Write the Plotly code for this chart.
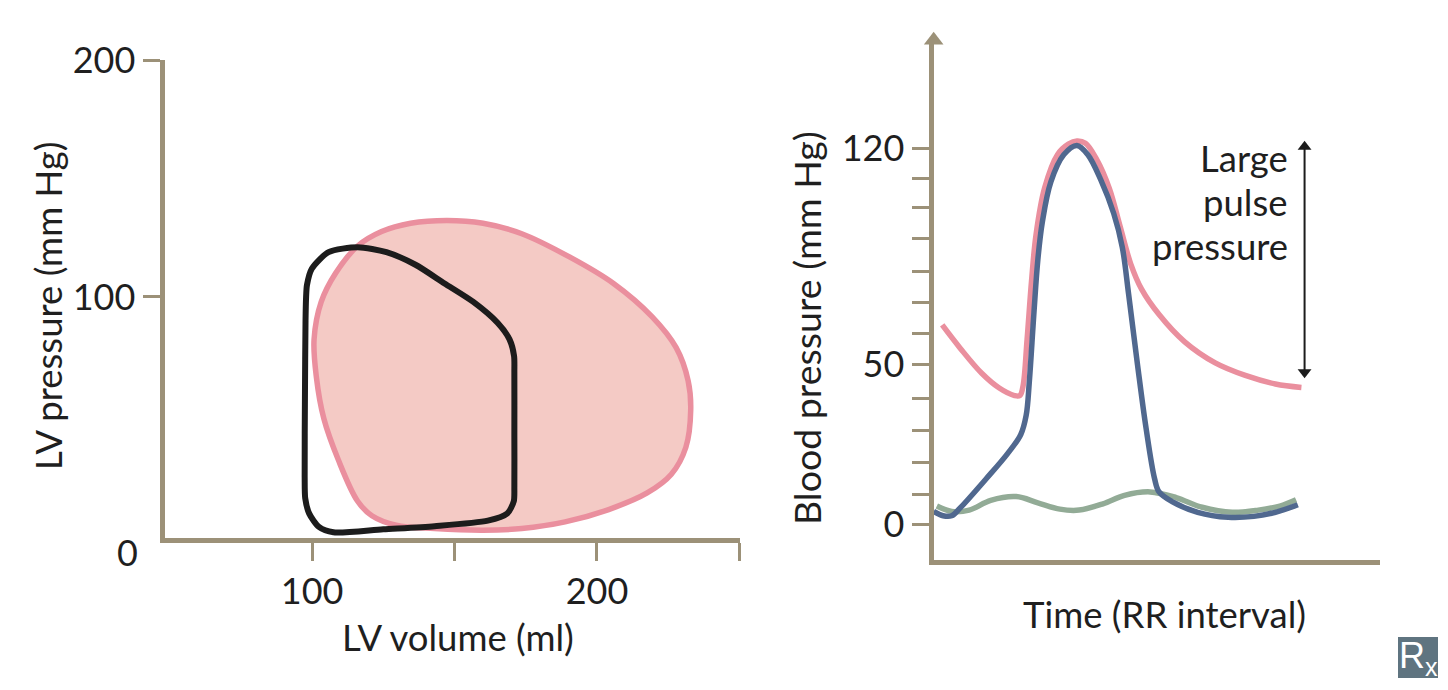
import plotly.graph_objects as go

W, H = 1448, 690
FONT = "Lato, sans-serif"
AXIS = "#9c9178"
TEXT = "#1f1f1f"
PINK = "#ea8f9e"
FILL = "#f4cac5"
BLUE = "#50688f"
GREEN = "#92ab96"

# PV loops: LV volume (ml), LV pressure (mm Hg)
large_volume = [147.3, 160.0, 173.6, 190.5, 205.8, 219.3, 227.8, 232.0, 232.9, 231.2, 226.1, 217.6, 204.1, 188.8,
                173.6, 160.0, 143.0, 129.5, 121.0, 116.0, 109.2, 104.1, 101.5, 100.7, 103.2, 108.3, 116.0, 124.4,
                134.6, 147.3]
large_pressure = [132.3, 131.1, 126.7, 116.8, 105.7, 91.7, 78.6, 64.6, 52.3, 36.6, 25.2, 17.3, 10.3, 5.1,
                  2.3, 1.6, 2.3, 3.7, 7.7, 13.8, 31.3, 48.8, 66.3, 82.1, 97.9, 110.1, 121.5, 127.6,
                  131.1, 132.3]
normal_volume = [116.0, 126.1, 136.3, 146.5, 156.6, 165.1, 169.3, 170.9, 171.0, 171.0, 171.0, 170.8, 168.5, 161.7,
                 143.0, 125.0, 107.5, 102.4, 99.0, 97.6, 97.4, 97.5, 97.7, 97.9, 98.2, 99.9, 105.8, 116.0]
normal_pressure = [121.0, 118.9, 113.6, 105.7, 97.9, 89.1, 82.1, 75.1, 68.0, 41.8, 20.0, 13.8, 8.6, 5.6,
                   3.3, 2.0, 0.7, 3.0, 8.6, 15.0, 24.0, 59.3, 90.0, 100.0, 105.0, 111.9, 118.9, 121.0]

# Pressure traces over the RR interval (percent of axis length, mm Hg)
aortic_time = [2.5, 6.5, 11.3, 15.2, 18.6, 19.8, 20.5, 21.4, 22.4, 23.4, 25.3, 28.2, 30.6, 32.5, 34.4, 36.8, 39.7,
               42.1, 44.5, 46.9, 50.8, 56.5, 63.3, 70.0, 76.7, 82.5]
aortic_bp = [63.7, 56.3, 48.3, 43.6, 41.2, 41.2, 44.2, 59.0, 77.8, 92.5, 107.3, 118.0, 121.3, 122.3, 121.6, 116.7,
             107.3, 95.2, 83.1, 75.1, 67.0, 58.3, 51.6, 47.6, 44.9, 43.8]
lv_time = [0.6, 2.7, 4.6, 6.5, 12.3, 17.1, 20.0, 21.2, 21.9, 22.9, 23.8, 24.8, 26.7, 29.6, 32.5, 34.9, 37.8, 40.7,
           42.6, 44.0, 46.0, 47.9, 49.8, 50.8, 53.7, 59.4, 66.2, 71.9, 76.7, 81.7]
lv_bp = [4.3, 2.9, 2.9, 5.4, 14.7, 22.8, 28.8, 34.9, 45.6, 67.0, 84.5, 96.5, 109.3, 118.0, 120.9, 118.0, 110.0, 99.2,
         88.5, 73.7, 51.0, 30.8, 14.7, 10.5, 7.4, 4.0, 2.4, 2.7, 4.0, 6.4]
la_time = [1.3, 4.6, 8.5, 13.3, 19.0, 23.8, 28.7, 33.0, 38.3, 43.1, 48.8, 54.6, 60.4, 67.1, 72.9, 77.7, 81.3]
la_bp = [6.0, 4.3, 4.7, 7.8, 9.0, 7.0, 5.0, 4.7, 6.7, 9.4, 10.5, 8.7, 5.6, 4.0, 4.7, 6.0, 8.0]

# Pulse-pressure span (time, mm Hg)
span_time = [83.2, 83.2]
span_bp = [48.6, 120.5]

# Ticks
left_x_ticks = [100, 200]
left_x_minor = [150, 250]
left_y_ticks = [100, 200]
right_y_ticks = [0, 51.2, 120]
right_y_labels = ["0", "50", "120"]
right_y_minor = [9.8, 19.8, 30.2, 40.2, 61, 70.8, 80.8, 91.1, 101.2, 110.3]


def dx(px):
    return px / W


def dy(py):
    return 1 - py / H


fig = go.Figure()
fig.add_trace(go.Scatter(x=large_volume, y=large_pressure, mode="lines", fill="toself", fillcolor=FILL,
                         line=dict(color=PINK, width=5.5, shape="spline", smoothing=1), xaxis="x", yaxis="y"))
fig.add_trace(go.Scatter(x=normal_volume, y=normal_pressure, mode="lines",
                         line=dict(color="#1c1c1c", width=6, shape="spline", smoothing=0.7), xaxis="x", yaxis="y"))
for t, p, c in [(la_time, la_bp, GREEN), (aortic_time, aortic_bp, PINK), (lv_time, lv_bp, BLUE)]:
    fig.add_trace(go.Scatter(x=t, y=p, mode="lines", line=dict(color=c, width=5.5, shape="spline", smoothing=1),
                             xaxis="x2", yaxis="y2"))
# double-headed pulse-pressure arrow
fig.add_trace(go.Scatter(x=span_time, y=span_bp, mode="lines+markers", line=dict(color="#1c1c1c", width=2),
                         marker=dict(symbol=["triangle-down", "triangle-up"], size=12, color="#1c1c1c",
                                     line=dict(width=0)),
                         xaxis="x2", yaxis="y2"))
# arrowhead on top of the right y axis
fig.add_trace(go.Scatter(x=[0.6], y=[154.4], mode="markers", cliponaxis=False,
                         marker=dict(symbol="triangle-up", size=17, color=AXIS, line=dict(width=0)),
                         xaxis="x2", yaxis="y2"))

common = dict(showgrid=False, zeroline=False, showline=True, linecolor=AXIS, linewidth=5, ticks="outside",
              tickcolor=AXIS, tickwidth=2.5, automargin=False, tickfont=dict(family=FONT, size=36, color=TEXT))


def minor(vals, length):
    return dict(tickmode="array", tickvals=vals, ticks="outside", ticklen=length, tickcolor=AXIS, tickwidth=2.5)


anns = []


def txt(text, x, y, size=37, angle=0, xanchor="center", yanchor="middle", color=TEXT, family=FONT):
    anns.append(dict(text=text, x=dx(x), y=dy(y), xref="paper", yref="paper", showarrow=False, textangle=angle,
                     xanchor=xanchor, yanchor=yanchor, font=dict(family=family, size=size, color=color)))


txt("0", 127, 552, 36)
txt("LV pressure (mm Hg)", 48, 306, 36.5, angle=-90)
txt("LV volume (ml)", 458, 637, 36.5)
txt("Blood pressure (mm Hg)", 806, 328, 37.5, angle=-90)
txt("Time (RR interval)", 1164, 614, 36.5)
for line, y in zip(["Large", "pulse", "pressure"], [158, 202, 246]):
    txt(line, 1290, y, 36.5, xanchor="right")
txt("R<sub>x</sub>", 1418, 658, 36, color="#ffffff", family="Liberation Sans, sans-serif")

fig.update_layout(
    width=W, height=H, margin=dict(l=0, r=0, t=0, b=0), paper_bgcolor="white", plot_bgcolor="white",
    showlegend=False, annotations=anns,
    xaxis=dict(domain=[dx(164.5), dx(740)], range=[48.2, 250.2], tickvals=left_x_ticks,
               ticktext=[str(v) for v in left_x_ticks], minor=minor(left_x_minor, 18),
               ticklen=18, anchor="y", **common),
    yaxis=dict(domain=[dy(538), dy(60)], range=[-1.7, 200], tickvals=left_y_ticks,
               ticktext=[str(v) for v in left_y_ticks], ticklen=17, anchor="x", **common),
    xaxis2=dict(domain=[dx(933.5), dx(1380)], range=[0.56, 100], tickvals=[], anchor="y2", automargin=False,
                showgrid=False, zeroline=False, showline=True, linecolor=AXIS, linewidth=5),
    yaxis2=dict(domain=[dy(560), dy(40)], range=[-11.2, 154.5], tickvals=right_y_ticks, ticktext=right_y_labels,
                minor=minor(right_y_minor, 17), ticklen=17, anchor="x2", **common),
    shapes=[dict(type="rect", xref="paper", yref="paper", x0=dx(1398), x1=dx(1438), y0=dy(678), y1=dy(637),
                 fillcolor="#5f7480", line=dict(width=0), layer="below")],
)
fig.write_html("out.html", config=dict(displayModeBar=False), post_script="document.body.style.margin='0';")
